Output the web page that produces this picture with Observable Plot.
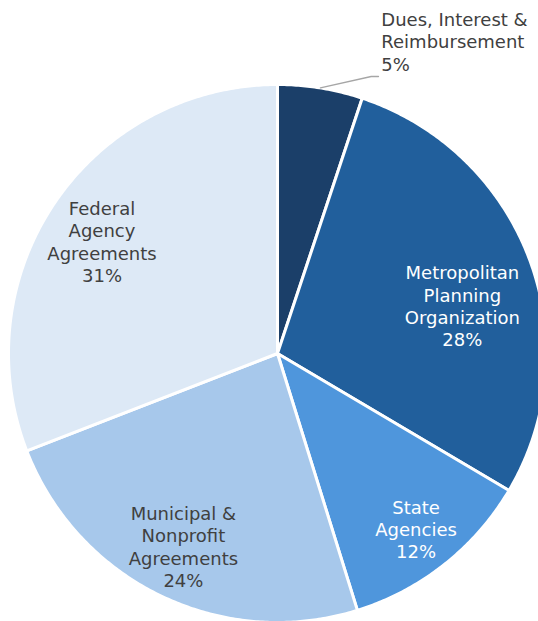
<!DOCTYPE html>
<html>
<head>
<meta charset="utf-8">
<script src="https://cdn.jsdelivr.net/npm/d3@7"></script>
<script src="https://cdn.jsdelivr.net/npm/@observablehq/plot@0.6"></script>
<style>
  html, body { margin: 0; padding: 0; background: #fff; }
  #chart { width: 538px; height: 621px; overflow: hidden; }
</style>
</head>
<body>
<div id="chart"></div>
<script>
// ---- Data ----
const categories = [
  "Dues, Interest &\nReimbursement",
  "Metropolitan\nPlanning\nOrganization",
  "State\nAgencies",
  "Municipal &\nNonprofit\nAgreements",
  "Federal\nAgency\nAgreements"
];
const values = [5.1, 28.4, 11.7, 23.9, 30.9];
const percentLabels = ["5%", "28%", "12%", "24%", "31%"];

// ---- Styles / layout (kept separate from data) ----
const colors = ["#1b3f69", "#215f9c", "#4f96dc", "#a7c8eb", "#dde9f6"];
const textColors = ["#404040", "#ffffff", "#ffffff", "#404040", "#404040"];
// label placement: angle (deg, clockwise from top) and radius fraction
const labelPlace = [
  {angle: 18.4, r: 1.223, anchor: "start"},
  {angle: 75.45, r: 0.710, anchor: "middle"},
  {angle: 141.7, r: 0.831, anchor: "middle"},
  {angle: 206.0, r: 0.798, anchor: "middle"},
  {angle: 302.55, r: 0.774, anchor: "middle"}
];

const W = 538, H = 621, R = 269, CX = 277, CY = 353;

const pie = d3.pie().sort(null).value(d => d)
  .startAngle(0).endAngle(2 * Math.PI);
const arcs = pie(values);

// Build slice polygons from pie angles
const slicePts = [];
arcs.forEach((a, i) => {
  const n = Math.max(8, Math.ceil((a.endAngle - a.startAngle) / (Math.PI / 360)));
  slicePts.push({k: i, x: 0, y: 0, fill: colors[i]});
  for (let j = 0; j <= n; j++) {
    const t = a.startAngle + (a.endAngle - a.startAngle) * j / n;
    slicePts.push({k: i, x: Math.sin(t), y: Math.cos(t), fill: colors[i]});
  }
  slicePts.push({k: i, x: 0, y: 0, fill: colors[i]});
});

const labels = categories.map((c, i) => {
  const p = labelPlace[i];
  const t = p.angle * Math.PI / 180;
  return {
    text: c + "\n" + percentLabels[i],
    x: p.r * Math.sin(t),
    y: p.r * Math.cos(t),
    anchor: p.anchor,
    color: textColors[i]
  };
});

// leader line for the small slice: from its outer mid-arc to the label
const a0 = arcs[0];
const mid0 = (a0.startAngle + a0.endAngle) / 2;
const leader = [
  {x: Math.sin(mid0), y: Math.cos(mid0)},
  {x: 93.7 / R, y: 277 / R},
  {x: 101 / R, y: 277 / R}
];

const chart = Plot.plot({
  width: W,
  height: H,
  margin: 0,
  x: {domain: [-CX / R, (W - CX) / R], axis: null},
  y: {domain: [-(H - CY) / R, CY / R], axis: null},
  style: {fontFamily: "'DejaVu Sans', Verdana, sans-serif", background: "#fff"},
  marks: [
    Plot.line(slicePts, {
      x: "x", y: "y", z: "k", fill: "fill",
      stroke: "#ffffff", strokeWidth: 3, strokeLinejoin: "round", curve: "linear"
    }),
    Plot.line(leader, {x: "x", y: "y", stroke: "#a6a6a6", strokeWidth: 1.3}),
    Plot.text(labels.filter(d => d.anchor === "middle"), {
      x: "x", y: "y", text: "text", fill: "color",
      fontSize: 18, lineHeight: 1.24, textAnchor: "middle", lineAnchor: "middle"
    }),
    Plot.text(labels.filter(d => d.anchor === "start"), {
      x: "x", y: "y", text: "text", fill: "color",
      fontSize: 18, lineHeight: 1.24, textAnchor: "start", lineAnchor: "middle"
    })
  ]
});
document.getElementById("chart").appendChild(chart);
</script>
</body>
</html>
